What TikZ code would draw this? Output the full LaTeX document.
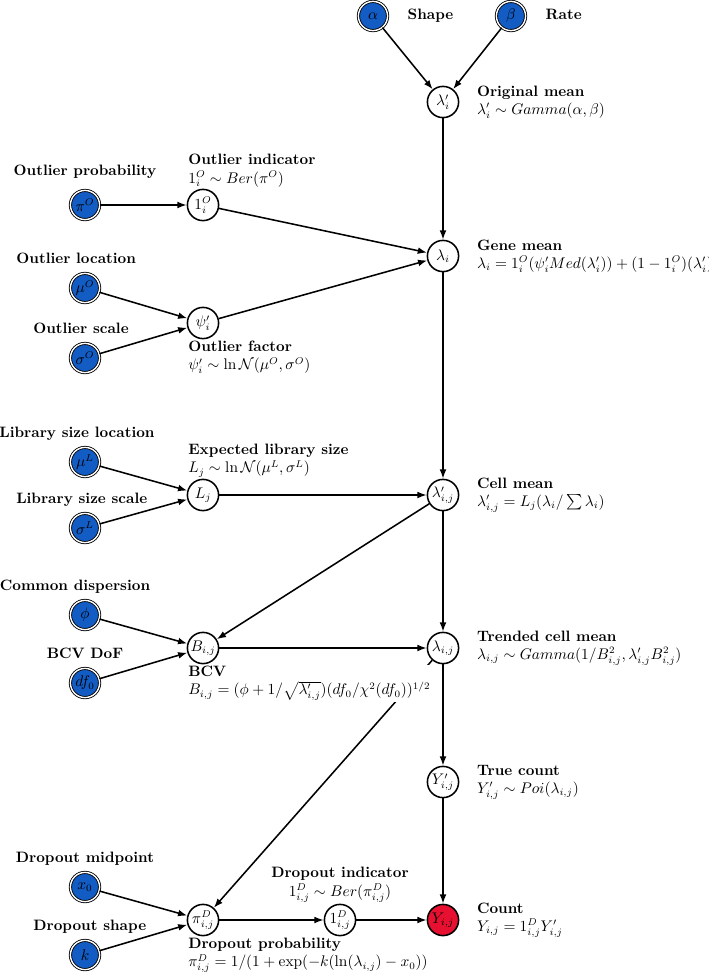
\documentclass[tikz,border=0pt]{standalone}
\usepackage{amsmath}
\usetikzlibrary{arrows.meta, positioning}
\definecolor{parblue}{RGB}{18,92,196}
\definecolor{obsred}{RGB}{232,16,48}
\newcommand{\figfont}{\fontsize{10.7}{13}\selectfont}
\tikzset{latent/.style={circle,draw,line width=1.1pt,fill=white,minimum size=7.8mm,inner sep=0pt,on grid},obs/.style={latent,fill=obsred},param/.style={circle,draw,line width=0.6pt,double=white,double distance=1pt,fill=parblue,minimum size=7.3mm,inner sep=0pt,on grid},plabel/.style={font=\figfont\bfseries,inner sep=1pt,text height=1.6ex,text depth=0.4ex},desc/.style={align=left,inner sep=1pt,fill=white},line/.style={-{Latex[length=2.3mm,width=1.7mm]},line width=1.1pt}}

\begin{document}
\begin{tikzpicture}[font=\figfont]
\useasboundingbox (0,0) rectangle (17.725,-24.3);
% gene level
\node[param] (alpha) at (9.325,-0.4) {$\alpha$};
\node[param, right=3.45cm of alpha] (beta) {$\beta$};
\node[latent, below right=2.15cm and 1.75cm of alpha] (lamO) {$\lambda'_i$};
\node[latent, below=3.85cm of lamO] (lam) {$\lambda_i$};
\node[latent, below=5.975cm of lam] (lamC) {$\lambda'_{i,j}$};
\node[latent, below=3.825cm of lamC] (lamT) {$\lambda_{i,j}$};
\node[latent, below=3.35cm of lamT] (Yt) {$Y'_{i,j}$};
\node[obs, below=3.45cm of Yt] (Y) {$Y_{i,j}$};
% outliers
\node[latent, above left=1.275cm and 6cm of lam] (oneO) {$1^O_i$};
\node[latent, below left=1.675cm and 6cm of lam] (psi) {$\psi'_i$};
\node[param, left=2.95cm of oneO] (piO) {$\pi^O$};
\node[param, above left=0.875cm and 2.95cm of psi] (muO) {$\mu^O$};
\node[param, below left=0.875cm and 2.95cm of psi] (sigO) {$\sigma^O$};
% library size
\node[latent, left=6cm of lamC] (L) {$L_j$};
\node[param, above left=0.825cm and 2.95cm of L] (muL) {$\mu^L$};
\node[param, below left=0.825cm and 2.95cm of L] (sigL) {$\sigma^L$};
% BCV
\node[latent, left=6cm of lamT] (B) {$B_{i,j}$};
\node[param, above left=0.825cm and 2.95cm of B] (phi) {$\phi$};
\node[param, below left=0.875cm and 2.95cm of B] (dfO) {$df_0$};
% dropout
\node[latent, left=6cm of Y] (piD) {$\pi^D_{i,j}$};
\node[latent, left=2.575cm of Y] (oneD) {$1^D_{i,j}$};
\node[param, above left=0.825cm and 2.95cm of piD] (xO) {$x_0$};
\node[param, below left=0.875cm and 2.95cm of piD] (k) {$k$};

\draw[line] (alpha) -- (lamO);
\draw[line] (beta) -- (lamO);
\draw[line] (lamO) -- (lam);
\draw[line] (piO) -- (oneO);
\draw[line] (oneO) -- (lam);
\draw[line] (muO) -- (psi);
\draw[line] (sigO) -- (psi);
\draw[line] (psi) -- (lam);
\draw[line] (lam) -- (lamC);
\draw[line] (muL) -- (L);
\draw[line] (sigL) -- (L);
\draw[line] (L) -- (lamC);
\draw[line] (lamC) -- (B);
\draw[line] (lamC) -- (lamT);
\draw[line] (phi) -- (B);
\draw[line] (dfO) -- (B);
\draw[line] (B) -- (lamT);
\draw[line] (lamT) -- (piD);
\draw[line] (lamT) -- (Yt);
\draw[line] (Yt) -- (Y);
\draw[line] (xO) -- (piD);
\draw[line] (k) -- (piD);
\draw[line] (piD) -- (oneD);
\draw[line] (oneD) -- (Y);

% parameter names
\node[plabel, right=4.5mm of alpha] (alphalab) {Shape};
\node[plabel, right=4.5mm of beta] (betalab) {Rate};
\node[plabel, above=2.7mm of piO] (piOlab) {Outlier probability};
\node[plabel, above=1.3mm of muO, xshift=-2.2mm] (muOlab) {Outlier location};
\node[plabel, above=1.3mm of sigO, xshift=-1mm] (sigOlab) {Outlier scale};
\node[plabel, above=1.3mm of muL, xshift=-2mm] (muLlab) {Library size location};
\node[plabel, above=1.3mm of sigL, xshift=-0.8mm] (sigLlab) {Library size scale};
\node[plabel, above=1.3mm of phi, xshift=-2.5mm] (philab) {Common dispersion};
\node[plabel, above=1.3mm of dfO] (dfOlab) {BCV DoF};
\node[plabel, above=1.3mm of xO] (xOlab) {Dropout midpoint};
\node[plabel, above=1.3mm of k, xshift=1.2mm] (klab) {Dropout shape};

% descriptions
\node[desc, right=4mm of lamO] (lamOdesc) {\textbf{Original mean}\\$\lambda'_i \sim Gamma(\alpha,\beta)$};
\node[desc, right=4mm of lam] (lamdesc) {\textbf{Gene mean}\\$\lambda_i = 1^O_i(\psi'_i Med(\lambda'_i)) + (1-1^O_i)(\lambda'_i)$};
\node[desc, right=4mm of lamC] (lamCdesc) {\textbf{Cell mean}\\$\lambda'_{i,j} = L_j(\lambda_i/\sum\lambda_i)$};
\node[desc, right=4mm of lamT] (lamTdesc) {\textbf{Trended cell mean}\\$\lambda_{i,j} \sim Gamma(1/B^2_{i,j},\lambda'_{i,j}B^2_{i,j})$};
\node[desc, right=4mm of Yt] (Ytdesc) {\textbf{True count}\\$Y'_{i,j} \sim Poi(\lambda_{i,j})$};
\node[desc, right=4mm of Y] (Ydesc) {\textbf{Count}\\$Y_{i,j} = 1^D_{i,j}Y'_{i,j}$};
\node[desc, anchor=south west] (oneOdesc) at (oneO.west |- oneO.north) {\textbf{Outlier indicator}\\$1^O_i \sim Ber(\pi^O)$};
\node[desc, anchor=north west] (psidesc) at (psi.west |- psi.south) {\textbf{Outlier factor}\\$\psi'_i \sim \ln\mathcal{N}(\mu^O,\sigma^O)$};
\node[desc, anchor=south west] (Ldesc) at (L.west |- L.north) {\textbf{Expected library size}\\$L_j \sim \ln\mathcal{N}(\mu^L,\sigma^L)$};
\node[desc, anchor=north west] (Bdesc) at (B.west |- B.south) {\textbf{BCV}\\$B_{i,j} = (\phi + 1/\sqrt{\lambda'_{i,j}})(df_0/\chi^2(df_0))^{1/2}$};
\node[desc, align=center, above=0mm of oneD] (oneDdesc) {\textbf{Dropout indicator}\\$1^D_{i,j} \sim Ber(\pi^D_{i,j})$};
\node[desc, anchor=north west] (piDdesc) at (piD.west |- piD.south) {\textbf{Dropout probability}\\$\pi^D_{i,j} = 1/(1+\exp(-k(\ln(\lambda_{i,j})-x_0))$};
\end{tikzpicture}
\end{document}
